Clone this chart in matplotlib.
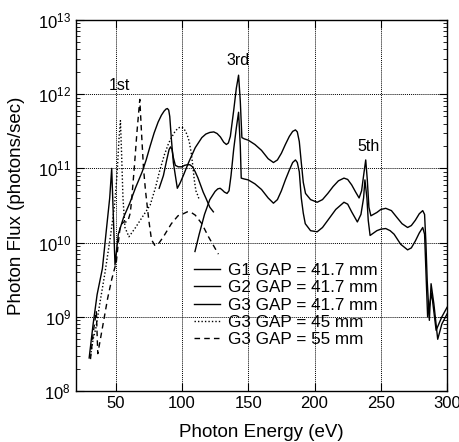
import numpy as np
import matplotlib
matplotlib.use('Agg')
import matplotlib.pyplot as plt

plt.rcParams['font.family'] = ['Liberation Sans', 'DejaVu Sans']

# G1 GAP = 41.7 mm (low energy branch + upper branch up to 300 eV)
g1_e = [30, 33, 36, 40, 43, 45.5, 47, 49.5, 52, 56, 60.6, 65, 70, 73, 76, 79, 82, 84.5, 86.5, 88,
        89, 90, 90.8, 92, 93.5, 96.5,
        98.5, 101, 105, 110, 115, 118, 121, 124, 126.5, 129, 131.5, 133.5, 135, 136.5, 139, 141,
        142.7, 144, 145.2, 147, 150, 155, 160, 165, 169, 172, 175, 178, 181, 183.5, 185.6, 187,
        188.5, 190, 191.5, 193.2, 197, 202, 206, 210, 214, 218, 222.2, 225, 228, 231, 233.6,
        235.5, 237, 238.6, 239.8, 241, 242.5, 247, 250, 253.7, 258, 262, 266, 270.2, 273, 276,
        279, 281.6, 283, 284, 285, 286.6, 287.9, 290, 292.9, 296, 300]
g1_f = [2.8e8, 8e8, 2e9, 4.5e9, 1.5e10, 4e10, 1e11, 5e9, 1.3e10, 2.2e10, 3.4e10, 5.5e10, 9e10,
        1.3e11, 2e11, 3e11, 4.2e11, 5.2e11, 5.9e11, 6.3e11,
        6.4e11, 6.1e11, 5e11, 2.5e11, 1.2e11, 5.4e10,
        6.3e10, 8e10, 1.2e11, 1.9e11, 2.6e11, 2.9e11, 3.05e11, 3.1e11, 2.95e11, 2.65e11, 2.25e11,
        2.1e11, 2.2e11, 2.7e11, 6e11, 1.2e12,
        1.8e12, 8e11, 2.6e11, 2.5e11, 2.4e11, 2.1e11, 1.75e11, 1.35e11, 1.2e11, 1.3e11, 1.6e11,
        2.1e11, 2.7e11, 3.15e11, 3.3e11, 3.1e11,
        2.3e11, 1.2e11, 6.5e10, 4.6e10, 3.8e10, 3.5e10, 3.8e10, 4.6e10, 5.7e10, 6.8e10,
        7.4e10, 7.1e10, 6e10, 4.8e10, 4e10,
        5e10, 8e10, 1.3e11, 7e10, 3e10, 2.3e10, 2.55e10, 2.8e10, 2.9e10, 2.7e10, 2.2e10, 1.8e10,
        1.6e10, 1.7e10, 2e10,
        2.45e10, 2.7e10, 2.4e10, 1e10, 3e9, 9e8, 2.8e9, 1.5e9, 5e8, 8e8, 1.1e9]

# G2 GAP = 41.7 mm
g2_e = [82.8, 86, 88.5, 90.3, 91.4, 92.5, 93.5, 95, 97.2, 100, 102, 104, 106, 108, 110, 112, 114,
        116, 118, 121, 123.7]
g2_f = [5.4e10, 8e10, 1.3e11, 1.8e11, 1.95e11, 1.8e11, 1.4e11, 1.1e11, 1.05e11, 1.05e11,
        1.1e11, 1.12e11, 1.12e11, 1.05e11, 9e10, 7.5e10, 6e10, 4.8e10, 4e10, 3e10, 2.6e10]

# G3 GAP = 41.7 mm
g3_e = [109.8, 113, 117, 121, 125, 127, 128.8, 130.5, 132, 134, 135.5, 137, 139, 141, 142.7, 144,
        144.7, 147, 150, 155, 160, 165, 169, 172, 175, 178, 181, 183.5, 185.6, 187, 188.5, 190,
        191.5, 193, 197, 202, 206, 210, 216, 222.2, 225, 228, 232.3, 235, 237, 238, 239.5, 240.5,
        241.9, 247, 250, 253.7, 257, 260, 265, 270.2, 273, 276, 279, 281.6, 283, 284.3, 285.3,
        288.3, 291.7, 296, 300]
g3_f = [7.6e9, 1.3e10, 2.4e10, 3.8e10, 4.9e10, 5.3e10, 5.4e10, 5.1e10, 4.8e10, 4.6e10, 5e10,
        8e10, 1.8e11, 3.5e11, 5.7e11, 2e11,
        7.4e10, 7.2e10, 7e10, 6.2e10, 5.2e10, 4e10, 3.4e10, 3.8e10, 5e10, 7e10, 9.5e10, 1.2e11,
        1.3e11, 1.2e11, 9e10, 4e10,
        2.5e10, 1.8e10, 1.45e10, 1.4e10, 1.6e10, 2e10, 2.8e10, 3.5e10, 3.3e10, 2.6e10, 1.9e10,
        2.4e10, 4e10, 7e10, 4e10, 2e10,
        1.25e10, 1.45e10, 1.52e10, 1.55e10, 1.45e10, 1.3e10, 9.5e9, 8e9, 8.5e9, 1.05e10, 1.35e10,
        1.6e10, 1.3e10, 3e9, 1e9,
        2.1e9, 6.6e8, 1e9, 1.35e9]

# G3 GAP = 45 mm
g45_e = [31, 33, 35, 38, 42, 46, 49, 51, 52.5, 53.6, 54.5, 55.5, 57, 60, 65, 70, 76, 80, 83, 86.6,
         90, 94, 97, 99.2, 101, 102.5, 104, 105.5, 107, 108, 109.3, 110.5, 112, 113]
g45_f = [3e8, 5e8, 7e8, 1.5e9, 4e9, 1.2e10, 3e10, 8e10, 2.5e11, 4.4e11, 1.5e11, 4e10, 1.6e10,
         1.2e10, 1.6e10, 2.2e10, 3.2e10, 5.5e10, 9e10, 1.5e11,
         2.2e11, 3e11, 3.5e11, 3.6e11, 3.5e11, 3.2e11, 2.8e11, 2.3e11, 1.6e11, 1.15e11, 7e10, 5e10,
         4.3e10, 3.8e10]

# G3 GAP = 55 mm
g55_e = [31, 33, 35.4, 36.5, 38, 41, 44, 47, 50.5, 52, 53.5, 56, 59, 61, 62, 64, 66, 68.2, 69.5,
         71, 72.5, 75, 77, 79.5, 82, 86, 92, 97, 101, 104, 107, 110, 115, 120, 124, 127.5]
g55_f = [2.7e8, 6e8, 1.2e9, 3.2e8, 4.5e8, 9e8, 1.8e9, 3.2e9, 5.5e9, 1e10, 1.7e10, 1.9e10, 1.9e10,
         2.5e10, 3.7e10, 1e11, 3e11, 8.5e11, 3e11,
         1e11, 5e10, 2e10, 1.1e10, 9.2e9, 9.5e9, 1.2e10, 1.8e10, 2.3e10, 2.45e10, 2.6e10, 2.55e10,
         2.35e10, 1.8e10, 1.2e10, 9e9, 7e9]

fig = plt.figure(figsize=(4.6, 4.42), dpi=100)
ax = fig.add_axes([0.165, 0.115, 0.807, 0.84])

ax.plot(g1_e, g1_f, 'k-', lw=1.0, label='G1 GAP = 41.7 mm')
ax.plot(g2_e, g2_f, 'k-', lw=1.0, label='G2 GAP = 41.7 mm')
ax.plot(g3_e, g3_f, 'k-', lw=1.0, label='G3 GAP = 41.7 mm')
ax.plot(g45_e, g45_f, 'k', ls=(0, (1, 1.5)), lw=1.0, label='G3 GAP = 45 mm')
ax.plot(g55_e, g55_f, 'k', ls=(0, (4, 3)), lw=1.0, label='G3 GAP = 55 mm')

ax.set_yscale('log')
ax.set_xlim(20, 300)
ax.set_ylim(1e8, 1e13)
ax.set_xticks([50, 100, 150, 200, 250, 300])
ax.grid(True, which='major', ls=(0, (1, 1)), color='k', lw=0.7)
ax.tick_params(which='both', direction='in', top=True, right=True, labelsize=12)
ax.tick_params(which='major', length=6)
ax.tick_params(which='minor', length=3)

ax.set_xlabel('Photon Energy (eV)', fontsize=13.5, labelpad=9)
ax.set_ylabel('Photon Flux (photons/sec)', fontsize=13.5, labelpad=9)

ax.text(53, 1.3e12, '1st', fontsize=11.5, ha='center', va='center')
ax.text(142, 2.8e12, '3rd', fontsize=11.5, ha='center', va='center')
ax.text(241, 1.95e11, '5th', fontsize=11.5, ha='center', va='center')

ax.legend(loc='upper left', bbox_to_anchor=(0.318, 0.345), frameon=False, fontsize=12.3,
          handlelength=1.5, handletextpad=0.5, labelspacing=0.13, borderpad=0, borderaxespad=0)

for s in ax.spines.values():
    s.set_linewidth(1.0)

fig.savefig('out.png', dpi=100)
